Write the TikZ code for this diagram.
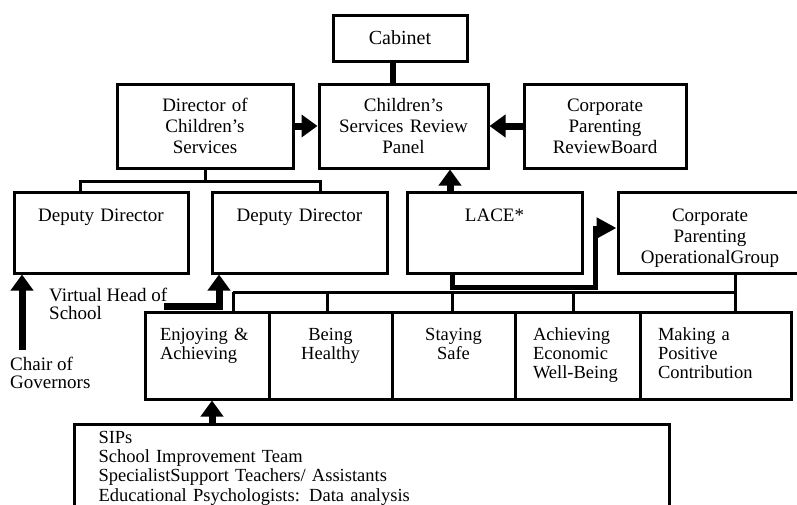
\documentclass[tikz,border=0pt]{standalone}
\usepackage{fontspec}
\setmainfont{Liberation Serif}
\usetikzlibrary{arrows.meta}

\begin{document}
\begin{tikzpicture}[x=1pt,y=-1pt,
    box/.style={draw, line width=3pt, align=center, inner xsep=5pt, inner ysep=0pt, font=\fontsize{19}{21}\selectfont},
    topbox/.style={box, text width=#1, minimum height=84pt},
    midbox/.style={box, text width=#1, text height=29pt, text depth=52pt},
    areabox/.style={box, text width=#1, inner xsep=15pt, text height=28pt, text depth=59pt, font=\fontsize{18.5}{19}\selectfont},
    lbl/.style={align=left, inner sep=0pt, font=\fontsize{19}{18}\selectfont},
    conn/.style={line width=3pt},
    fat/.style={line width=7pt, -{Triangle[length=16pt,width=22pt]}}]
    \useasboundingbox (0,0) rectangle (797,504);

    \node[box, minimum width=134pt, minimum height=46pt, font=\fontsize{20}{22}\selectfont] (cabinet) at (400,38) {Cabinet};
    \node[topbox=166pt] (director) at (205,126) {Director of\\Children’s\\Services};
    \node[topbox=159pt] (panel) at (403.5,126) {Children’s\\Services Review\\Panel};
    \node[topbox=152pt] (cprb) at (605,126) {Corporate\\Parenting\\ReviewBoard};

    \node[midbox=164pt] (dep1) at (101,232.5) {Deputy Director};
    \node[midbox=165pt] (dep2) at (299.5,232.5) {Deputy Director};
    \node[midbox=165pt] (lace) at (494.5,232.5) {LACE*};
    \node[midbox=174pt] (cpog) at (710,232.5) {Corporate\\Parenting\\OperationalGroup};

    \node[areabox=94pt, inner xsep=15pt, align=left] (ea) at (207,355.5) {Enjoying~\&\\Achieving};
    \node[areabox=93pt] (bh) at (330.5,355.5) {Being\\Healthy};
    \node[areabox=93pt] (ss) at (453.5,355.5) {Staying\\Safe};
    \node[areabox=89pt, inner xsep=18pt, align=left] (aewb) at (577.5,355.5) {Achieving\\Economic\\Well-Being};
    \node[areabox=115pt, inner xsep=18pt, align=left] (mpc) at (715.5,355.5) {Making a\\Positive\\Contribution};

    \node[box, anchor=north west, align=left, text width=547pt, inner xsep=24pt, text height=19pt, text depth=120pt, font=\fontsize{18.5}{19.2}\selectfont] (sips) at (73,423)
        {SIPs\\School Improvement Team\\SpecialistSupport Teachers/ Assistants\\Educational Psychologists: Data analysis};

    \node[lbl, anchor=north west] (vhead) at (49,288) {Virtual Head of\\School};
    \node[lbl, anchor=north west] (chair) at (10,357) {Chair of\\Governors};

    \coordinate (dsplit) at (205,181);
    \coordinate (elb) at (595,287);
    \coordinate (vtail) at (164,306);
    \coordinate (ctail) at (22,350);
    \coordinate (sipsup) at (212,423);

    \draw[line width=6.5pt] (393,0 |- cabinet.south) -- (393,0 |- panel.north);
    \draw[fat] (director) -- (panel);
    \draw[fat] (cprb) -- (panel);
    \draw[fat] (450,0 |- lace.north) -- (450,0 |- panel.south);

    \draw[conn] (director) -- (dsplit);
    \draw[conn] (80,0 |- dep1.north) |- (dsplit) -| (320,0 |- dep2.north);

    \draw[line width=5pt, -{Triangle[length=20pt,width=20pt]}] ([xshift=-42.5pt,yshift=3pt]lace.south) |- (elb) |- ([yshift=4.5pt]cpog.west);

    \draw[conn] (233,292) -- (735,292);
    \foreach \x in {233,327,452,573}
        \draw[conn] (\x,292) -- (\x,0 |- ea.north);
    \draw[conn] (735,0 |- cpog.south) -- (735,0 |- mpc.north);

    \draw[fat] (vtail) -| (219,0 |- dep2.south);
    \draw[fat] (ctail) -- (ctail |- dep1.south);
    \draw[fat] (sipsup) -- (sipsup |- ea.south);
\end{tikzpicture}
\end{document}
